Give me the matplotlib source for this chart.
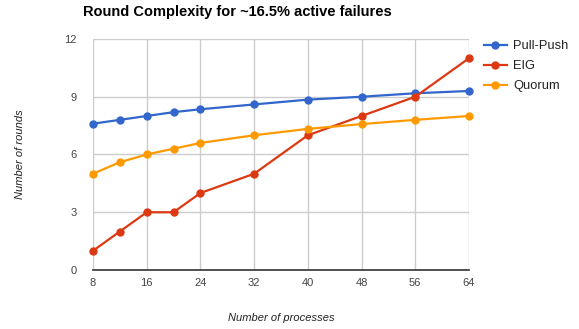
import matplotlib
matplotlib.use("Agg")
import matplotlib.pyplot as plt

plt.rcParams['font.family'] = ['Liberation Sans', 'DejaVu Sans']

x_values = [8, 12, 16, 20, 24, 32, 40, 48, 56, 64]
pull_push = [7.6, 7.8, 8.0, 8.2, 8.35, 8.6, 8.85, 9.0, 9.18, 9.3]
eig = [1, 2, 3, 3, 4, 5, 7, 8, 9, 11]
quorum = [5.0, 5.6, 6.0, 6.3, 6.6, 7.0, 7.33, 7.58, 7.8, 8.0]
series_names = ["Pull-Push", "EIG", "Quorum"]
x_ticks = [8, 16, 24, 32, 40, 48, 56, 64]
y_ticks = [0, 3, 6, 9, 12]

colors = ["#3366cc", "#dc3912", "#ff9900"]

fig = plt.figure(figsize=(5.79, 3.29), dpi=100)
ax = fig.add_axes([0.1606, 0.1793, 0.81 - 0.1606, 0.8815 - 0.1793])

for vals, name, c in zip([pull_push, eig, quorum], series_names, colors):
    ax.plot(x_values, vals, color=c, lw=1.6, marker='o', ms=5, label=name,
            clip_on=False, zorder=3)

ax.set_xlim(8, 64)
ax.set_ylim(0, 12)
ax.set_xticks(x_ticks)
ax.set_yticks(y_ticks)
ax.grid(True, color="#cccccc", lw=1)
ax.set_axisbelow(True)
for s in ['top', 'right', 'left']:
    ax.spines[s].set_visible(False)
ax.spines['bottom'].set_color('#333333')
ax.spines['bottom'].set_linewidth(1.2)
ax.tick_params(length=0, labelsize=8, colors='#444444', pad=6)
ax.tick_params(axis='y', pad=12)

ax.set_xlabel("Number of processes", fontsize=8, style='italic', color='#222222', labelpad=18)
ax.set_ylabel("Number of rounds", fontsize=8, style='italic', color='#222222', labelpad=28)

fig.text(0.144, 0.963, "Round Complexity for ~16.5% active failures", fontsize=10.5,
         fontweight='bold', ha='left', va='center', color='#000000')

leg = ax.legend(loc='upper left', bbox_to_anchor=(1.025, 1.018), frameon=False,
                fontsize=9.3, handlelength=1.8, labelspacing=0.62, handletextpad=0.5,
                borderaxespad=0)
for t in leg.get_texts():
    t.set_color('#222222')

fig.savefig("out.png", dpi=100)
